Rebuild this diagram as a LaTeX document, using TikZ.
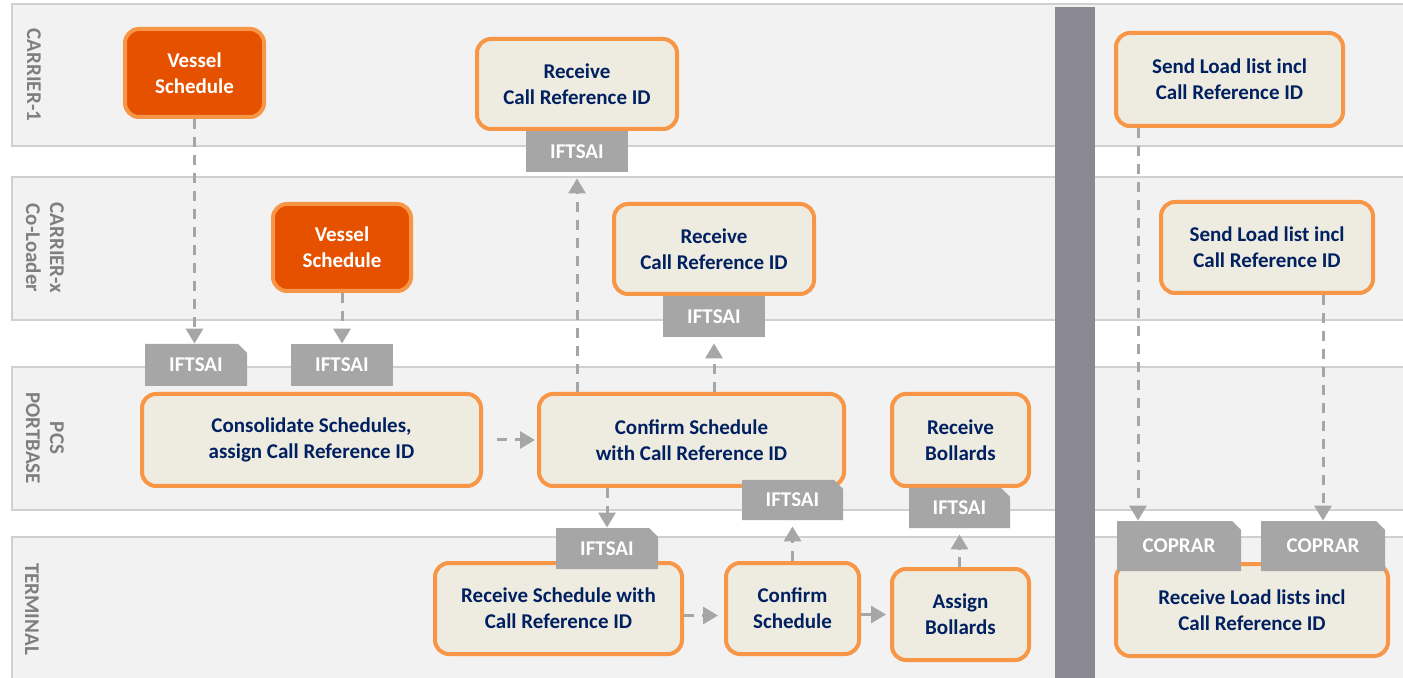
\documentclass[tikz,border=0pt]{standalone}
\usepackage{fontspec}
\setmainfont{Carlito}
\usetikzlibrary{arrows.meta}
\definecolor{lanefill}{HTML}{F2F2F2}
\definecolor{laneline}{HTML}{D0D0D0}
\definecolor{orangeline}{HTML}{F79646}
\definecolor{boxfill}{HTML}{EEEBE1}
\definecolor{darkorange}{HTML}{E65100}
\definecolor{navy}{HTML}{002060}
\definecolor{msggray}{HTML}{A6A6A6}
\definecolor{lbl}{HTML}{7F7F7F}
\definecolor{barcol}{HTML}{8A8893}
\tikzset{
  lane/.style={fill=lanefill, draw=laneline, line width=0.6pt},
  lanelabel/.style={text=lbl, font=\bfseries\fontsize{10.5}{12}\selectfont, rotate=-90, align=center, inner sep=0pt},
  proc/.style={draw=orangeline, line width=2pt, fill=boxfill, rounded corners=7pt, text=navy, font=\bfseries\fontsize{10.5}{13}\selectfont, align=center, inner sep=0pt},
  hot/.style={proc, fill=darkorange, text=white},
  msg/.style={fill=msggray, text=white, font=\bfseries\fontsize{10.5}{12}\selectfont, inner sep=0pt},
  msgtext/.style={text=white, font=\bfseries\fontsize{10.5}{12}\selectfont, inner sep=0pt},
  flow/.style={draw=msggray, line width=1.5pt, dash pattern=on 5pt off 4pt, -{Triangle[width=8.5pt,length=7.5pt]}},
}
\newcommand\mkbox[7]{\node[#1, minimum width={(#4-#2-4)*0.5pt}, minimum height={(#5-#3-4)*0.5pt}] (#6) at ({(#2+#4)/2},{(#3+#5)/2}) {#7};}
\newcommand\mkmsg[6]{\node[msg, minimum width={(#3-#1)*0.5pt}, minimum height={(#4-#2)*0.5pt}] (#5) at ({(#1+#3)/2},{(#2+#4)/2}) {#6};}
\newcommand\mkcut[6]{\fill[msggray] (#1,#2) -- (#3-9,#2) -- (#3,#2+9) -- (#3,#4) -- (#1,#4) -- cycle;
  \node[msgtext, minimum width={(#3-#1)*0.5pt}, minimum height={(#4-#2)*0.5pt}] (#5) at ({(#1+#3)/2},{(#2+#4)/2}) {#6};}
\begin{document}
\begin{tikzpicture}[x=0.5pt,y=-0.5pt]
\useasboundingbox (0,0) rectangle (1403,678);
\fill[white] (0,0) rectangle (1403,678);
% lanes
\path[lane] (12,4) rectangle (1412,146);
\path[lane] (12,177) rectangle (1412,320);
\path[lane] (12,367) rectangle (1412,510);
\path[lane] (12,537) rectangle (1412,690);
\fill[barcol] (1055,7) rectangle (1095,690);
% lane labels
\node[lanelabel] (l1) at (34,75) {CARRIER-1};
\node[lanelabel] (l2) at (45,248) {CARRIER-x\\Co-Loader};
\node[lanelabel] (l3) at (45,438) {PCS\\PORTBASE};
\node[lanelabel] (l4) at (32,609) {TERMINAL};
% process boxes
\mkbox{hot}{123}{27}{266}{119}{vs1}{Vessel\\Schedule}
\mkbox{proc}{475}{37}{679}{131}{rc1}{Receive\\Call Reference ID}
\mkbox{proc}{1114}{31}{1345}{128}{sl1}{Send Load list incl\\Call Reference ID}
\mkbox{hot}{271}{202}{413}{293}{vs2}{Vessel\\Schedule}
\mkbox{proc}{612}{202}{816}{296}{rc2}{Receive\\Call Reference ID}
\mkbox{proc}{1159}{200}{1375}{295}{sl2}{Send Load list incl\\Call Reference ID}
\mkbox{proc}{140}{392}{483}{488}{cons}{Consolidate Schedules,\\assign Call Reference ID}
\mkbox{proc}{537}{392}{846}{488}{conf}{Confirm Schedule\\with Call Reference ID}
\mkbox{proc}{890}{392}{1031}{488}{rb}{Receive\\Bollards}
\mkbox{proc}{433}{561}{684}{656}{rsw}{Receive Schedule with\\Call Reference ID}
\mkbox{proc}{724}{561}{861}{656}{cs}{Confirm\\Schedule}
\mkbox{proc}{890}{567}{1031}{662}{ab}{Assign\\Bollards}
\mkbox{proc}{1114}{562}{1390}{658}{rll}{Receive Load lists incl\\Call Reference ID}
% messages
\mkmsg{526}{131}{628}{172}{m3}{IFTSAI}
\mkmsg{663}{296}{765}{337}{m7}{IFTSAI}
\mkcut{145}{344}{247}{386}{m9}{IFTSAI}
\mkmsg{291}{344}{393}{386}{m10}{IFTSAI}
\mkcut{742}{480}{843}{520}{m15}{IFTSAI}
\mkcut{909}{488}{1010}{528}{m14}{IFTSAI}
\mkcut{556}{528}{658}{569}{m16}{IFTSAI}
\mkcut{1117}{521}{1241}{571}{m21}{COPRAR}
\mkcut{1261}{521}{1385}{571}{m22}{COPRAR}
% connectors
\draw[flow] (vs1.south) -- (vs1.south |- m9.north);
\draw[flow] (vs2.south) -- (vs2.south |- m10.north);
\draw[flow, shorten <=7pt, shorten >=1pt] (cons.east) -- (conf.west);
\draw[flow, shorten >=3pt] (conf.north -| m3.south) -- (m3.south);
\draw[flow, shorten >=3pt] (conf.north -| m7.south) -- (m7.south);
\draw[flow] (conf.south -| m16.north) -- (m16.north);
\draw[flow, shorten >=3pt] ([yshift=-3.5pt]rsw.east) -- ([yshift=-3.5pt]cs.west);
\draw[flow, shorten >=3pt] (cs.north -| m15.south) -- (m15.south);
\draw[flow, shorten >=2pt] (ab.west -| cs.east) -- (ab.west);
\draw[flow, shorten >=3pt] (ab.north -| m14.south) -- (m14.south);
\coordinate (k1) at ([xshift=12pt]sl1.south west);
\draw[flow] (k1) -- (k1 |- m21.north);
\draw[flow] (m22.north |- sl2.south) -- (m22.north);
\end{tikzpicture}
\end{document}
